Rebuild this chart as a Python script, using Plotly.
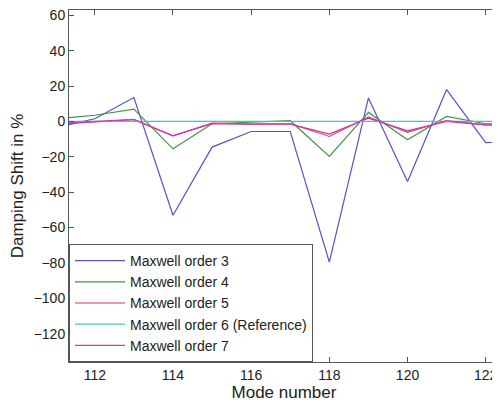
import plotly.graph_objects as go

# mode numbers and damping shift (%) per Maxwell order
modes = [111, 112, 113, 114, 115, 116, 117, 118, 119, 120, 121, 122, 123]
order3 = [-3.5, 1.5, 13.5, -53, -14.5, -5.7, -5.7, -79.5, 13.3, -34, 18, -12, -11]
order4 = [1.5, 3.5, 7, -15.5, -1.3, -0.4, 0.4, -19.8, 5.1, -10.4, 2.8, -1.3, -1.6]
order5 = [-1.6, -0.5, 1, -8.1, -0.9, -1.5, -1.5, -7.2, 1.9, -5.3, 0, -1.9, -2]
order6 = [0, 0, 0, 0, 0, 0, 0, 0, 0, 0, 0, 0, 0]
order7 = [-1.2, 0, 1.2, -8.1, -1.2, -1.5, -1.3, -8.5, 2.5, -6.2, 0.5, -2, -2.1]

names = ["Maxwell order 3", "Maxwell order 4", "Maxwell order 5",
         "Maxwell order 6 (Reference)", "Maxwell order 7"]
colors = ["#5252cc", "#3f953f", "#dc3050", "#45c8ae", "#c83cc8"]

fig = go.Figure()
for name, vals, col in zip(names, [order3, order4, order5, order6, order7], colors):
    fig.add_trace(go.Scatter(x=modes, y=vals, mode="lines", name=name,
                             line=dict(color=col, width=1.2)))

axis_style = dict(showline=True, linecolor="#555555", linewidth=1, mirror="ticks",
                  ticks="inside", ticklen=5, tickcolor="#555555",
                  showgrid=False, zeroline=False, automargin=False,
                  ticklabeloverflow="allow",
                  tickfont=dict(size=14, color="#222222"))

# page body adds an 8px offset, so margins are shifted to compensate
fig.update_layout(
    width=500, height=400,
    margin=dict(l=61, r=9, t=2, b=46),
    paper_bgcolor="white", plot_bgcolor="white",
    font=dict(family="Liberation Sans, Arial, sans-serif", size=14, color="#222222"),
    xaxis=dict(range=[111.34, 122.34], tickvals=[112, 114, 116, 118, 120, 122],
               title=dict(text="Mode number", standoff=0), **axis_style),
    yaxis=dict(range=[-136, 63], tickvals=list(range(-120, 61, 20)),
               title=dict(text="Damping Shift in %", standoff=12), **axis_style),
    legend=dict(x=0, y=0, xanchor="left", yanchor="bottom",
                bgcolor="white", bordercolor="#555555", borderwidth=1,
                font=dict(size=14), tracegroupgap=0, itemwidth=50),
    showlegend=True,
)

fig.write_html("out.html")
